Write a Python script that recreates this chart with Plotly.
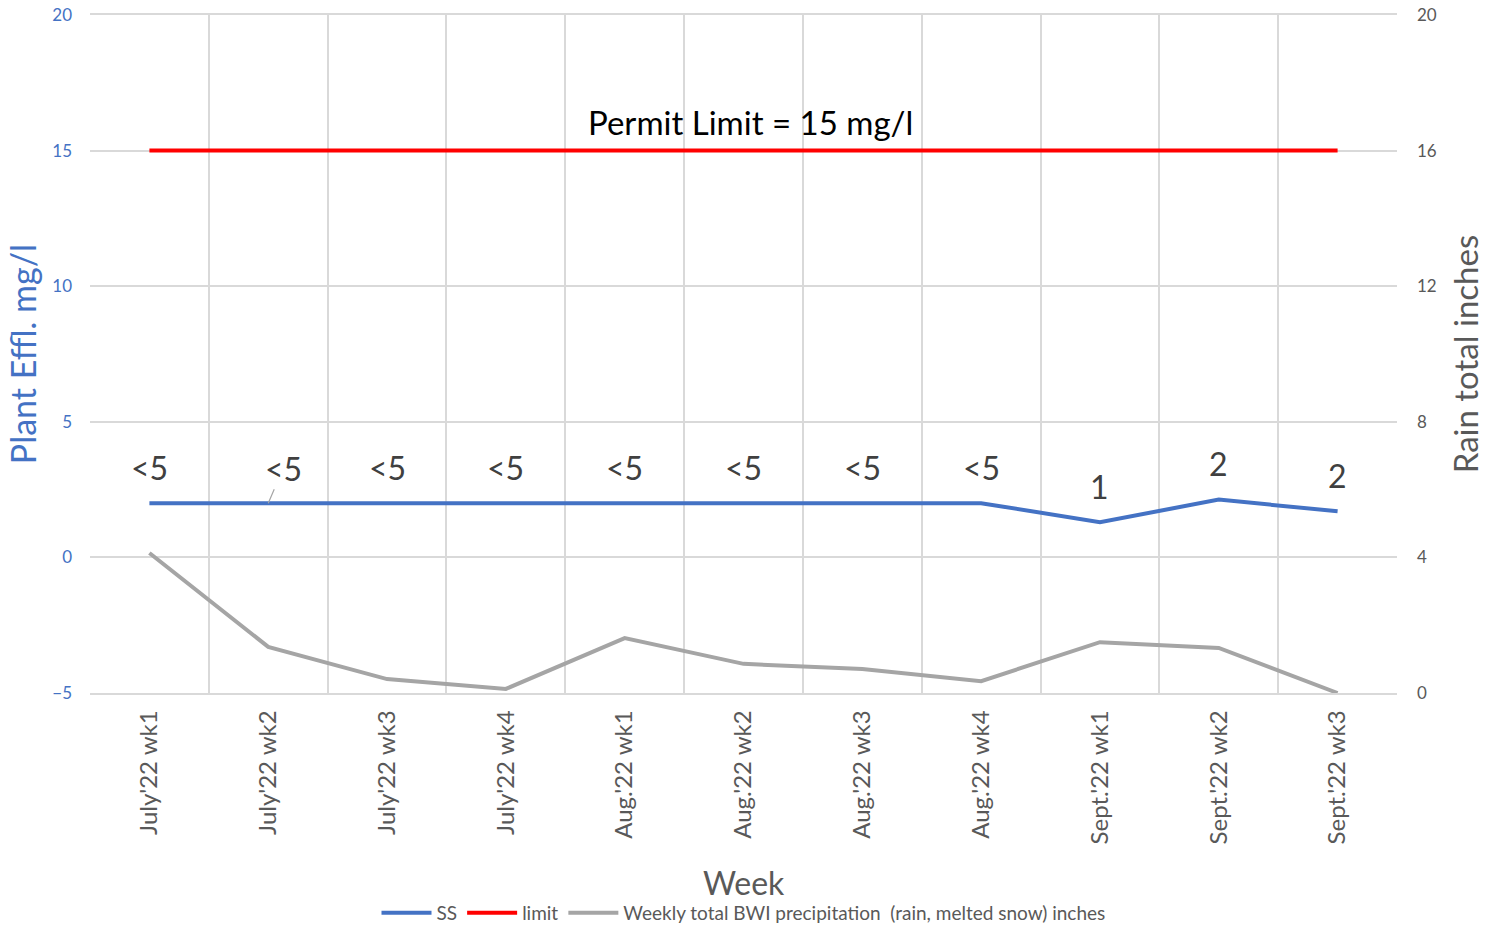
import plotly.graph_objects as go

weeks = ["July'22 wk1", "July'22 wk2", "July'22 wk3", "July'22 wk4",
         "Aug.'22 wk1", "Aug.'22 wk2", "Aug.'22 wk3", "Aug.'22 wk4",
         "Sept.'22 wk1", "Sept.'22 wk2", "Sept.'22 wk3"]
ss = [2.0, 2.0, 2.0, 2.0, 2.0, 2.0, 2.0, 2.0, 1.3, 2.13, 1.7]
limit = [15] * 11
rain = [4.13, 1.36, 0.41, 0.12, 1.62, 0.86, 0.71, 0.35, 1.5, 1.33, 0.0]
ss_labels = ["<5", "<5", "<5", "<5", "<5", "<5", "<5", "<5", "1", "2", "2"]
label_y = [3.32, 3.32, 3.32, 3.32, 3.32, 3.32, 3.32, 3.32, 2.62, 3.47, 3.02]
x_title = "Week"

FONT = "Lato, 'Open Sans', sans-serif"
BLUE = "#4472C4"
GRAY = "#A5A5A5"
TXT = "#595959"

fig = go.Figure()
fig.add_trace(go.Scatter(x=weeks, y=ss, name="SS", mode="lines",
                         line=dict(color=BLUE, width=4)))
fig.add_trace(go.Scatter(x=weeks, y=limit, name="limit", mode="lines",
                         line=dict(color="#FF0000", width=4)))
fig.add_trace(go.Scatter(x=weeks, y=rain, name="Weekly total BWI precipitation  (rain, melted snow) inches",
                         mode="lines", line=dict(color=GRAY, width=4), yaxis="y2"))

for i, (w, t, yy) in enumerate(zip(weeks, ss_labels, label_y)):
    if i == 1:
        fig.add_annotation(x=w, y=ss[i], text=t, showarrow=True, arrowhead=0,
                           arrowwidth=1.2, arrowcolor=GRAY, ax=15, ay=-35,
                           font=dict(family=FONT, size=32, color="#404040"))
    else:
        fig.add_annotation(x=w, y=yy, text=t, showarrow=False,
                           font=dict(family=FONT, size=32, color="#404040"))

fig.add_annotation(x=0.5, xref="paper", y=16.05, text="Permit Limit = 15 mg/l",
                   showarrow=False, xshift=7,
                   font=dict(family=FONT, size=33, color="#000000"))

# x-axis title placed below the rotated tick labels
fig.add_annotation(x=0.5, xref="paper", y=-0.2802, yref="paper", yanchor="middle",
                   text=x_title, showarrow=False,
                   font=dict(family=FONT, size=32, color=TXT))

fig.update_layout(
    width=1497, height=928,
    margin=dict(l=90, r=100, t=15, b=235),
    paper_bgcolor="white", plot_bgcolor="white",
    font=dict(family=FONT, color=TXT),
    showlegend=True,
    legend=dict(orientation="h", x=0.5, xanchor="center",
                yref="container", y=0.0162, yanchor="middle",
                font=dict(family=FONT, size=19, color=TXT), itemwidth=50,
                tracegroupgap=0),
    xaxis=dict(type="category", range=[-0.5, 10.5], tickson="boundaries",
               showgrid=True, gridcolor="#D9D9D9", gridwidth=1.5,
               showline=True, linecolor="#D9D9D9", linewidth=1.5, mirror=True,
               ticks="", tickangle=-90, automargin=False, ticklabelstandoff=6,
               tickfont=dict(family=FONT, size=24, color=TXT)),
    yaxis=dict(range=[-5, 20], tickvals=[-5, 0, 5, 10, 15, 20],
               showgrid=True, gridcolor="#D9D9D9", gridwidth=1.5, zeroline=False,
               showline=False, ticks="", automargin=False, ticklabelstandoff=17,
               tickfont=dict(family=FONT, size=17, color=BLUE),
               title=dict(text="Plant Effl. mg/l", font=dict(family=FONT, size=34, color=BLUE), standoff=5)),
    yaxis2=dict(range=[0, 20], tickvals=[0, 4, 8, 12, 16, 20], overlaying="y", side="right",
                showgrid=False, zeroline=False, showline=False, ticks="", automargin=False,
                ticklabelstandoff=19,
                tickfont=dict(family=FONT, size=17, color=TXT),
                title=dict(text="Rain total inches", font=dict(family=FONT, size=33, color=TXT), standoff=19)),
)

post = "document.body.style.margin='0';document.body.style.overflow='hidden';"
fig.write_html("out.html", post_script=post, config={"displayModeBar": False})
